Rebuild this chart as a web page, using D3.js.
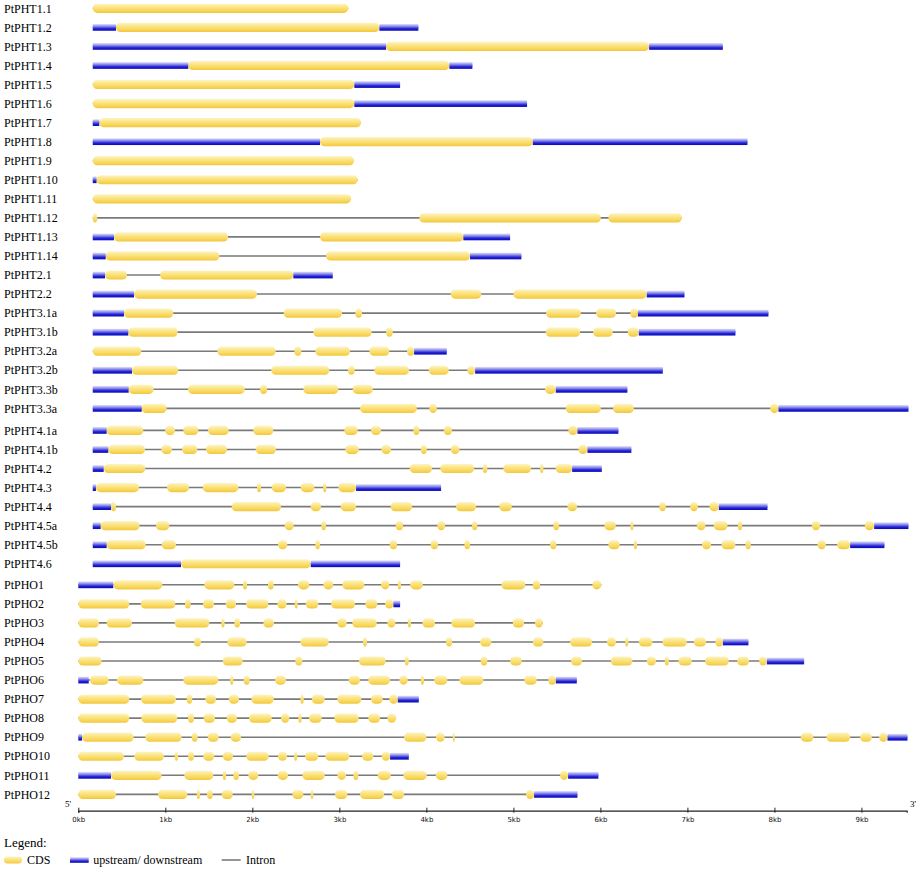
<!DOCTYPE html>
<html>
<head>
<meta charset="utf-8">
<script src="https://cdn.jsdelivr.net/npm/d3@7"></script>
<style>
  body { margin: 0; background: #fff; }
</style>
</head>
<body>
<svg id="chart"></svg>
<script>
var geneNames = [
    "PtPHT1.1", "PtPHT1.2", "PtPHT1.3", "PtPHT1.4", "PtPHT1.5", "PtPHT1.6", "PtPHT1.7",
    "PtPHT1.8", "PtPHT1.9", "PtPHT1.10", "PtPHT1.11", "PtPHT1.12", "PtPHT1.13", "PtPHT1.14",
    "PtPHT2.1", "PtPHT2.2", "PtPHT3.1a", "PtPHT3.1b", "PtPHT3.2a", "PtPHT3.2b", "PtPHT3.3b",
    "PtPHT3.3a", "PtPHT4.1a", "PtPHT4.1b", "PtPHT4.2", "PtPHT4.3", "PtPHT4.4", "PtPHT4.5a",
    "PtPHT4.5b", "PtPHT4.6", "PtPHO1", "PtPHO2", "PtPHO3", "PtPHO4", "PtPHO5", "PtPHO6",
    "PtPHO7", "PtPHO8", "PtPHO9", "PtPHO10", "PtPHO11", "PtPHO12"
];

// 0 = PHT1-3, 1 = PHT4, 2 = PHO
var geneGroup = [
    0,0,0,0,0,0,0,0,0,0,0,0,0,0,0,0,0,0,0,0,0,0,
    1,1,1,1,1,1,1,1,
    2,2,2,2,2,2,2,2,2,2,2,2
];

// segments in kb: C = CDS, U = upstream/downstream
var geneSegments = [
    [["C",0.166,3.103]],
    [["U",0.166,0.433],["C",0.433,3.46],["U",3.46,3.908]],
    [["U",0.166,3.537],["C",3.537,6.56],["U",6.56,7.407]],
    [["U",0.166,1.264],["C",1.264,4.264],["U",4.264,4.529]],
    [["C",0.166,3.172],["U",3.172,3.698]],
    [["C",0.166,3.172],["U",3.172,5.157]],
    [["U",0.166,0.241],["C",0.241,3.249]],
    [["U",0.166,2.778],["C",2.778,5.223],["U",5.223,7.69]],
    [["C",0.166,3.169]],
    [["U",0.166,0.21],["C",0.21,3.211]],
    [["C",0.166,3.134]],
    [["C",0.166,0.218],["C",3.92,6.005],["C",6.092,6.936]],
    [["U",0.166,0.41],["C",0.41,1.721],["C",2.778,4.425],["U",4.425,4.962]],
    [["U",0.166,0.315],["C",0.315,1.621],["C",2.847,4.502],["U",4.502,5.092]],
    [["U",0.166,0.307],["C",0.307,0.56],["C",0.939,2.471],["U",2.471,2.924]],
    [["U",0.166,0.64],["C",0.64,2.054],["C",4.28,4.632],["C",5.0,6.533],["U",6.533,6.966]],
    [["U",0.166,0.525],["C",0.525,1.092],["C",2.361,3.031],["C",3.184,3.261],["C",5.376,5.775],
     ["C",5.951,6.18],["C",6.345,6.43],["U",6.43,7.931]],
    [["U",0.166,0.575],["C",0.575,1.142],["C",2.701,3.372],["C",3.537,3.614],["C",5.372,5.767],
     ["C",5.916,6.142],["C",6.315,6.441],["U",6.441,7.552]],
    [["C",0.166,0.724],["C",1.598,2.269],["C",2.483,2.563],["C",2.724,3.123],["C",3.345,3.575],
     ["C",3.778,3.859],["U",3.859,4.234]],
    [["U",0.166,0.617],["C",0.617,1.149],["C",2.218,2.885],["C",3.1,3.177],["C",3.402,3.801],
     ["C",4.028,4.257],["C",4.471,4.56],["U",4.56,6.717]],
    [["U",0.166,0.579],["C",0.579,0.866],["C",1.261,1.912],["C",2.089,2.169],["C",2.586,2.989],
     ["C",3.154,3.384],["C",5.364,5.487],["U",5.487,6.31]],
    [["U",0.166,0.729],["C",0.729,1.016],["C",3.238,3.89],["C",4.034,4.12],["C",5.602,6.005],
     ["C",6.146,6.384],["C",7.951,8.046],["U",8.046,9.54]],
    [["U",0.166,0.326],["C",0.326,0.747],["C",0.997,1.111],["C",1.207,1.379],["C",1.491,1.729],
     ["C",2.011,2.241],["C",3.057,3.211],["C",3.364,3.479],["C",3.851,3.92],["C",4.2,4.295],
     ["C",5.632,5.736],["U",5.736,6.207]],
    [["U",0.166,0.345],["C",0.345,0.767],["C",0.954,1.077],["C",1.192,1.368],["C",1.468,1.709],
     ["C",2.039,2.272],["C",3.069,3.223],["C",3.483,3.594],["C",3.936,4.005],["C",4.28,4.38],
     ["C",5.747,5.851],["U",5.851,6.356]],
    [["U",0.166,0.292],["C",0.292,0.77],["C",3.809,4.066],["C",4.161,4.548],["C",4.648,4.701],
     ["C",4.885,5.203],["C",5.307,5.345],["C",5.487,5.675],["U",5.675,6.016]],
    [["U",0.166,0.203],["C",0.203,0.698],["C",1.02,1.272],["C",1.43,1.839],["C",2.054,2.1],
     ["C",2.223,2.387],["C",2.556,2.713],["C",2.813,2.851],["C",2.989,3.192],["U",3.192,4.169]],
    [["U",0.166,0.376],["C",0.376,0.433],["C",1.763,2.33],["C",2.671,2.79],["C",3.016,3.192],
     ["C",3.59,3.836],["C",4.341,4.571],["C",4.839,4.982],["C",5.621,5.732],["C",6.678,6.752],
     ["C",7.031,7.12],["C",7.253,7.361],["U",7.361,7.92]],
    [["U",0.166,0.257],["C",0.257,0.705],["C",0.893,1.046],["C",2.372,2.476],["C",2.793,2.847],
     ["C",3.648,3.732],["C",4.126,4.215],["C",4.525,4.586],["C",5.46,5.525],["C",6.046,6.177],
     ["C",6.345,6.379],["C",7.108,7.207],["C",7.303,7.46],["C",7.579,7.629],["C",8.43,8.525],
     ["C",9.039,9.146],["U",9.146,9.54]],
    [["U",0.166,0.326],["C",0.326,0.775],["C",0.958,1.123],["C",2.295,2.402],["C",2.724,2.778],
     ["C",3.579,3.663],["C",4.05,4.134],["C",4.437,4.502],["C",5.422,5.494],["C",6.092,6.223],
     ["C",6.384,6.422],["C",7.168,7.272],["C",7.391,7.552],["C",7.667,7.729],["C",8.494,8.591],
     ["C",8.721,8.87],["U",8.87,9.264]],
    [["U",0.166,1.18],["C",1.18,2.671],["U",2.671,3.698]],
    [["U",0,0.402],["C",0.402,0.966],["C",1.448,1.793],["C",1.893,1.939],["C",2.18,2.246],
     ["C",2.525,2.655],["C",2.816,2.931],["C",3.034,3.287],["C",3.479,3.575],["C",3.671,3.709],
     ["C",3.813,3.959],["C",4.862,5.138],["C",5.223,5.307],["C",5.908,6.011]],
    [["C",0,0.586],["C",0.717,1.115],["C",1.226,1.292],["C",1.433,1.56],["C",1.694,1.813],
     ["C",1.928,2.184],["C",2.287,2.395],["C",2.487,2.522],["C",2.614,2.759],["C",2.905,3.18],
     ["C",3.299,3.437],["C",3.525,3.621],["U",3.621,3.698]],
    [["C",0,0.238],["C",0.326,0.617],["C",1.108,1.506],["C",1.644,1.682],["C",1.793,1.859],
     ["C",2.126,2.249],["C",2.977,3.085],["C",3.149,3.43],["C",3.552,3.644],["C",3.786,3.824],
     ["C",3.954,4.1],["C",4.287,4.56],["C",4.993,5.123],["C",5.249,5.338]],
    [["C",0,0.238],["C",1.33,1.41],["C",1.713,1.936],["C",2.552,2.878],["C",3.272,3.318],
     ["C",4.226,4.295],["C",4.617,4.747],["C",5.223,5.345],["C",5.652,5.905],["C",6.074,6.18],
     ["C",6.284,6.322],["C",6.441,6.598],["C",6.713,6.993],["C",7.074,7.215],["C",7.322,7.407],
     ["U",7.407,7.701]],
    [["C",0,0.269],["C",1.66,1.89],["C",2.494,2.575],["C",3.226,3.533],["C",3.752,3.798],
     ["C",4.625,4.701],["C",4.962,5.097],["C",5.663,5.79],["C",6.12,6.368],["C",6.533,6.64],
     ["C",6.74,6.786],["C",6.897,7.051],["C",7.203,7.476],["C",7.572,7.709],["C",7.824,7.913],
     ["U",7.913,8.341]],
    [["U",0,0.12],["C",0.134,0.349],["C",0.445,0.747],["C",1.207,1.609],["C",1.744,1.782],
     ["C",1.901,1.97],["C",2.261,2.387],["C",3.108,3.238],["C",3.333,3.583],["C",3.69,3.786],
     ["C",3.936,3.974],["C",4.089,4.241],["C",4.379,4.655],["C",5.126,5.269],["C",5.402,5.487],
     ["U",5.487,5.729]],
    [["C",0,0.586],["C",0.721,1.123],["C",1.246,1.31],["C",1.46,1.583],["C",1.729,1.847],
     ["C",1.989,2.246],["C",2.552,2.591],["C",2.683,2.832],["C",2.977,3.253],["C",3.364,3.499],
     ["C",3.575,3.671],["U",3.671,3.913]],
    [["C",0,0.586],["C",0.724,1.138],["C",1.261,1.33],["C",1.441,1.571],["C",1.706,1.824],
     ["C",1.962,2.223],["C",2.33,2.425],["C",2.529,2.568],["C",2.652,2.798],["C",2.943,3.223],
     ["C",3.333,3.468],["C",3.552,3.652]],
    [["U",0,0.043],["C",0.043,0.637],["C",0.77,1.188],["C",1.303,1.372],["C",1.487,1.614],
     ["C",1.751,1.87],["C",3.744,4.0],["C",4.111,4.211],["C",4.303,4.326],["C",8.303,8.448],
     ["C",8.598,8.87],["C",8.985,9.12],["C",9.203,9.299],["U",9.299,9.529]],
    [["C",0,0.525],["C",0.644,0.985],["C",1.108,1.146],["C",1.261,1.33],["C",1.437,1.563],
     ["C",1.66,1.778],["C",1.931,2.188],["C",2.295,2.399],["C",2.479,2.517],["C",2.606,2.759],
     ["C",2.839,3.115],["C",3.261,3.391],["C",3.487,3.583],["U",3.583,3.798]],
    [["U",0,0.376],["C",0.376,0.958],["C",1.218,1.552],["C",1.66,1.698],["C",1.782,1.847],
     ["C",1.954,2.069],["C",2.292,2.41],["C",2.575,2.832],["C",2.977,3.077],["C",3.161,3.218],
     ["C",3.441,3.591],["C",3.736,4.005],["C",4.108,4.241],["C",5.537,5.629],["U",5.629,5.977]],
    [["C",0,0.433],["C",0.916,1.253],["C",1.361,1.399],["C",1.479,1.545],["C",1.648,1.775],
     ["C",1.993,2.023],["C",2.46,2.586],["C",2.671,2.701],["C",2.951,3.092],["C",3.238,3.514],
     ["C",3.602,3.744],["C",5.146,5.238],["U",5.238,5.736]]
];

var axisTicks = [0, 1, 2, 3, 4, 5, 6, 7, 8, 9];
var axisMax = 9.52;

var legendItems = ["CDS", "upstream/ downstream", "Intron"];

var width = 921, height = 871;
var serif = '"Liberation Serif", "Times New Roman", serif';

var svg = d3.select('#chart')
            .attr('width', width)
            .attr('height', height);

var defs = svg.append('defs');

function addGrad(id, stops){
    var gr = defs.append('linearGradient')
        .attr('id', id)
        .attr('x1', 0).attr('y1', 0).attr('x2', 0).attr('y2', 1);
    stops.forEach(function(s){
        gr.append('stop').attr('offset', s[0]).attr('stop-color', s[1]);
    });
}
addGrad('cdsGrad', [[0, '#fdf4c8'], [0.35, '#fbe689'], [0.75, '#f8d65a'], [1, '#f1c63c']]);
addGrad('utrGrad', [[0, '#e4e4fb'], [0.35, '#8b8bea'], [0.7, '#2020d6'], [1, '#0a0ab4']]);

var x = d3.scaleLinear().domain([0, axisMax]).range([78.3, 906.7]);
var y = d3.scaleLinear().domain([0, geneNames.length - 1]).range([8.3, 8.3 + 41*19.05]);
var groupShift = [0, 3, 5];

var rows = svg.selectAll('g.gene')
    .data(geneNames)
    .enter()
    .append('g')
    .attr('class', 'gene')
    .attr('transform', (d, i) => 'translate(0,' + (y(i) + groupShift[geneGroup[i]]) + ')');

rows.append('text')
    .attr('x', 4)
    .attr('dy', '0.35em')
    .style('font-family', serif)
    .style('font-size', '12px')
    .text(d => d);

// intron backbone
rows.append('line')
    .attr('x1', (d, i) => x(geneSegments[i][0][1]))
    .attr('x2', (d, i) => x(geneSegments[i][geneSegments[i].length - 1][2]))
    .attr('y1', 0).attr('y2', 0)
    .style('stroke', '#7a7a7a')
    .style('stroke-width', 1.6);

rows.each(function(d, i){
    var row = d3.select(this);
    var segs = geneSegments[i];

    row.selectAll('rect.utr')
        .data(segs.filter(s => s[0] == "U"))
        .enter()
        .append('rect')
        .attr('class', 'utr')
        .attr('x', s => x(s[1]))
        .attr('width', s => Math.max(1, x(s[2]) - x(s[1])))
        .attr('y', -3.4)
        .attr('height', 6.8)
        .style('fill', 'url(#utrGrad)');

    row.selectAll('rect.cds')
        .data(segs.filter(s => s[0] == "C"))
        .enter()
        .append('rect')
        .attr('class', 'cds')
        .attr('x', s => x(s[1]))
        .attr('width', s => Math.max(2, x(s[2]) - x(s[1])))
        .attr('y', -4.6)
        .attr('height', 9.2)
        .attr('rx', s => Math.min(4.5, Math.max(2, x(s[2]) - x(s[1])) / 2))
        .attr('ry', 4.5)
        .style('fill', 'url(#cdsGrad)');
});

// axis
var axisG = svg.append('g')
    .attr('transform', 'translate(0,810.7)')
    .call(d3.axisBottom(x)
        .tickValues(axisTicks)
        .tickFormat(d => d + 'kb')
        .tickSizeOuter(0)
        .tickSize(2)
        .tickPadding(4));

axisG.select('.domain').style('stroke', '#222').style('stroke-width', 1.2);
axisG.selectAll('.tick line').attr('y1', -3).attr('y2', 2).style('stroke', '#222');
axisG.selectAll('.tick text')
    .style('font-family', '"DejaVu Sans", Verdana, sans-serif')
    .style('font-size', '7px')
    .style('fill', '#111');

svg.append('text')
    .attr('x', 68).attr('y', 807)
    .attr('text-anchor', 'middle')
    .style('font-family', serif)
    .style('font-size', '9px')
    .text("5'");

svg.append('text')
    .attr('x', 913).attr('y', 807)
    .attr('text-anchor', 'middle')
    .style('font-family', serif)
    .style('font-size', '9px')
    .text("3'");

// legend
svg.append('text')
    .attr('x', 4).attr('y', 842)
    .attr('dy', '0.35em')
    .style('font-family', serif)
    .style('font-size', '13px')
    .text("Legend:");

var legY = 860;
svg.append('rect')
    .attr('x', 4).attr('y', legY - 3.5)
    .attr('width', 18).attr('height', 7)
    .attr('rx', 3.5).attr('ry', 3.5)
    .style('fill', 'url(#cdsGrad)');
svg.append('rect')
    .attr('x', 70).attr('y', legY - 2.8)
    .attr('width', 18.7).attr('height', 5.6)
    .style('fill', 'url(#utrGrad)');
svg.append('line')
    .attr('x1', 221.7).attr('x2', 240.7)
    .attr('y1', legY).attr('y2', legY)
    .style('stroke', '#7a7a7a')
    .style('stroke-width', 1.6);

var legX = [27, 93.3, 246];
svg.selectAll('text.leg')
    .data(legendItems)
    .enter()
    .append('text')
    .attr('class', 'leg')
    .attr('x', (d, i) => legX[i])
    .attr('y', legY)
    .attr('dy', '0.35em')
    .style('font-family', serif)
    .style('font-size', '12px')
    .text(d => d);
</script>
</body>
</html>
